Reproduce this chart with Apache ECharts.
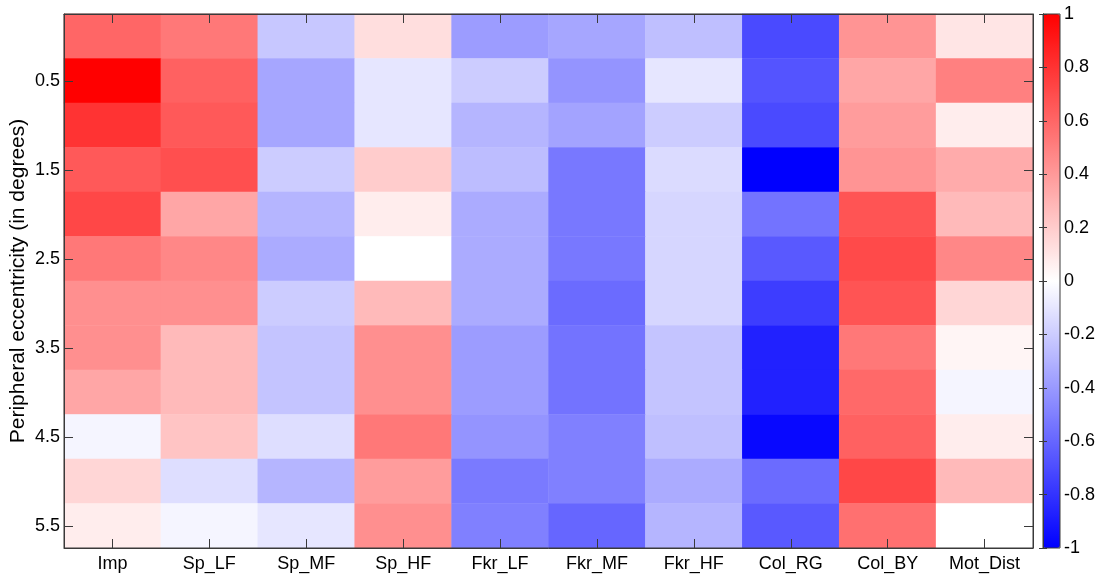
<!DOCTYPE html>
<html>
<head>
<meta charset="utf-8">
<script src="https://cdn.jsdelivr.net/npm/echarts@6/dist/echarts.min.js"></script>
<style>html,body{margin:0;padding:0;background:#fff;}#c{width:1102px;height:576px;}</style>
</head>
<body>
<div id="c"></div>
<script>
const measures = ['Imp','Sp_LF','Sp_MF','Sp_HF','Fkr_LF','Fkr_MF','Fkr_HF','Col_RG','Col_BY','Mot_Dist'];
const eccentricities = ['0','0.5','1','1.5','2','2.5','3','3.5','4','4.5','5','5.5'];
// one array per row (eccentricity), values in column order of measures
const r00 = [0.60, 0.53, -0.22, 0.13, -0.39, -0.35, -0.25, -0.71, 0.42, 0.10];
const r05 = [1.00, 0.62, -0.35, -0.10, -0.20, -0.42, -0.10, -0.67, 0.35, 0.50];
const r10 = [0.80, 0.65, -0.35, -0.10, -0.29, -0.36, -0.20, -0.71, 0.39, 0.07];
const r15 = [0.65, 0.69, -0.20, 0.20, -0.26, -0.53, -0.14, -1.00, 0.42, 0.33];
const r20 = [0.72, 0.35, -0.29, 0.07, -0.33, -0.53, -0.16, -0.55, 0.67, 0.27];
const r25 = [0.53, 0.47, -0.33, 0.00, -0.33, -0.53, -0.16, -0.65, 0.71, 0.47];
const r30 = [0.44, 0.44, -0.20, 0.27, -0.33, -0.58, -0.16, -0.76, 0.67, 0.16];
const r35 = [0.44, 0.27, -0.23, 0.44, -0.39, -0.55, -0.23, -0.87, 0.53, 0.04];
const r40 = [0.35, 0.27, -0.23, 0.44, -0.39, -0.55, -0.23, -0.87, 0.59, -0.04];
const r45 = [-0.04, 0.23, -0.13, 0.53, -0.42, -0.50, -0.25, -0.97, 0.62, 0.07];
const r50 = [0.16, -0.13, -0.29, 0.39, -0.52, -0.50, -0.33, -0.58, 0.72, 0.27];
const r55 = [0.07, -0.04, -0.10, 0.44, -0.50, -0.60, -0.29, -0.65, 0.56, 0.00];
const rows = [r00, r05, r10, r15, r20, r25, r30, r35, r40, r45, r50, r55];
const colorbarMin = -1, colorbarMax = 1, colorbarStep = 0.2;

const data = [];
rows.forEach((row, yi) => row.forEach((v, xi) => data.push([xi, yi, v])));

const FONT = 'Liberation Sans';
const FS = 18;
const oddOnly = (i) => i % 2 === 1;
const frame = '#3a3a3a';

const chart = echarts.init(document.getElementById('c'), null, {renderer: 'canvas'});
chart.setOption({
  animation: false,
  backgroundColor: '#fff',
  textStyle: {fontFamily: FONT},
  grid: [
    {left: 64, top: 14, width: 969, height: 534, show: true, borderColor: frame, borderWidth: 1,
     backgroundColor: 'transparent', z: 5, containLabel: false, outerBoundsMode: 'none'},
    {left: 1043, top: 14, width: 17, height: 534, show: true, borderColor: frame, borderWidth: 1,
     backgroundColor: 'transparent', z: 5, containLabel: false, outerBoundsMode: 'none'}
  ],
  xAxis: [
    {type: 'category', gridIndex: 0, data: measures, position: 'bottom',
     axisLine: {show: true, lineStyle: {color: frame}},
     axisTick: {show: true, inside: true, alignWithLabel: true, length: 9, lineStyle: {color: frame}},
     axisLabel: {color: '#000', fontSize: FS, fontFamily: FONT, margin: 7},
     splitLine: {show: false}, z: 10},
    {type: 'category', gridIndex: 0, data: measures, position: 'top',
     axisLine: {show: true, lineStyle: {color: frame}},
     axisTick: {show: true, inside: true, alignWithLabel: true, length: 9, lineStyle: {color: frame}},
     axisLabel: {show: false}, splitLine: {show: false}, z: 10},
    {type: 'value', gridIndex: 1, show: false, min: 0, max: 1}
  ],
  yAxis: [
    {type: 'category', gridIndex: 0, data: eccentricities, inverse: true, position: 'left',
     name: 'Peripheral eccentricity (in degrees)', nameLocation: 'middle', nameGap: 35,
     nameMoveOverlap: false,
     nameTextStyle: {color: '#000', fontSize: 21, fontFamily: FONT},
     axisLine: {show: true, lineStyle: {color: frame}},
     axisTick: {show: true, inside: true, alignWithLabel: true, length: 9, interval: oddOnly, lineStyle: {color: frame}},
     axisLabel: {color: '#000', fontSize: FS, fontFamily: FONT, interval: oddOnly, margin: 4},
     splitLine: {show: false}, z: 10},
    {type: 'category', gridIndex: 0, data: eccentricities, inverse: true, position: 'right',
     axisLine: {show: true, lineStyle: {color: frame}},
     axisTick: {show: true, inside: true, alignWithLabel: true, length: 9, interval: oddOnly, lineStyle: {color: frame}},
     axisLabel: {show: false}, splitLine: {show: false}, z: 10},
    {type: 'value', gridIndex: 1, position: 'right', min: colorbarMin, max: colorbarMax, interval: colorbarStep,
     axisLine: {show: true, lineStyle: {color: frame}},
     axisTick: {show: true, inside: true, length: 4, lineStyle: {color: frame}},
     axisLabel: {color: '#000', fontSize: FS, fontFamily: FONT, margin: 4,
                 formatter: (v) => String(Math.round(v * 10) / 10)},
     splitLine: {show: false}, z: 10},
    {type: 'value', gridIndex: 1, position: 'left', min: colorbarMin, max: colorbarMax, interval: colorbarStep,
     axisLine: {show: true, lineStyle: {color: frame}},
     axisTick: {show: true, inside: true, length: 4, lineStyle: {color: frame}},
     axisLabel: {show: false}, splitLine: {show: false}, z: 10}
  ],
  visualMap: {
    type: 'continuous', seriesIndex: 0, min: colorbarMin, max: colorbarMax,
    orient: 'vertical', left: 1043, top: 14, itemWidth: 17, itemHeight: 534,
    padding: 0, text: null, calculable: false, realtime: false, hoverLink: false,
    showLabel: false,
    inRange: {color: ['#0000ff', '#ffffff', '#ff0000']},
    textStyle: {color: 'transparent'}
  },
  series: [
    {type: 'heatmap', xAxisIndex: 0, yAxisIndex: 0, data: data,
     itemStyle: {borderWidth: 0}, emphasis: {disabled: true}, progressive: 0}
  ]
});
</script>
</body>
</html>
